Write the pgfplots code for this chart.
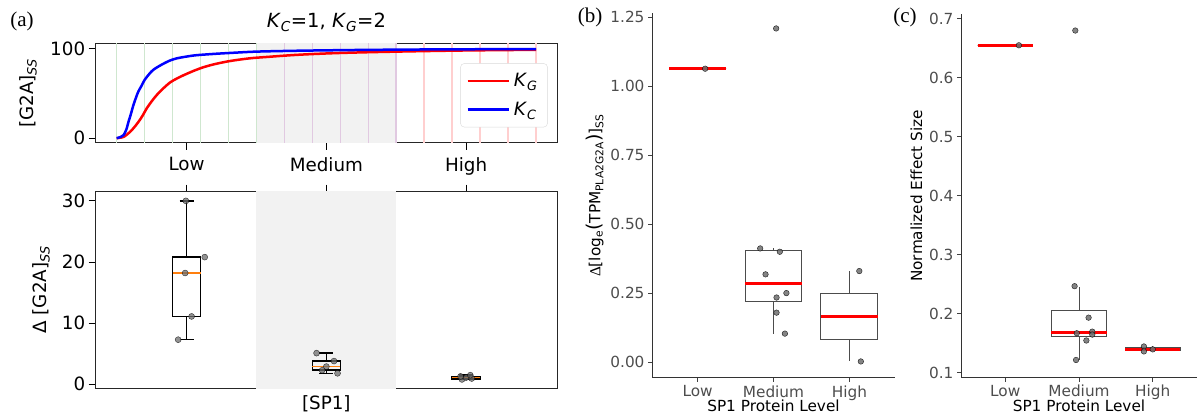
\documentclass[border=0pt]{standalone}
\usepackage{fontspec}
\setmainfont{DejaVu Sans}
\newfontfamily\serifpanel{Liberation Serif}
\usepackage{pgfplots}
\pgfplotsset{compat=1.18}
\usepgfplotslibrary{statistics}
\newcommand\fs{\fontsize{15.3}{18}\selectfont}
\newcommand\fa{\fontsize{18.3}{22}\selectfont}
\definecolor{mplorange}{HTML}{FF7F0E}
\definecolor{ggtick}{HTML}{4D4D4D}
\definecolor{shade}{HTML}{F2F2F2}
\definecolor{vgreen}{HTML}{CFE7CF}
\definecolor{vpurple}{HTML}{E1C9E1}
\definecolor{vred}{HTML}{FFCFCF}
\definecolor{ptgray}{HTML}{6E6E6E}
\pgfplotsset{
  /pgf/number format/assume math mode=true,
}
\begin{document}
\begin{tikzpicture}
\path[use as bounding box] (0pt,0pt) rectangle (1200pt,414pt);

% ---------------- (a) top ----------------
\begin{axis}[
  at={(95.7pt,271.3pt)}, anchor=south west, scale only axis,
  width=461.3pt, height=98.7pt,
  xmin=0.35, xmax=3.65, ymin=-5, ymax=105,
  xtick={1,2,3}, xticklabels={Low,Medium,High}, ytick={0,100},
  xtick pos=left, ytick pos=left,
  tick align=outside, major tick length=7pt,
  tick style={line width=1pt, black},
  axis line style={line width=1pt, black!85},
  tick label style={font=\fa},
  xticklabel style={yshift=-4pt},
  title={\textit{K}\textsubscript{\textit{C}}=1, \textit{K}\textsubscript{\textit{G}}=2},
  title style={font=\fontsize{19.5}{22}\selectfont, at={(0.5,1)}, anchor=base, yshift=10pt},
  ylabel={[G2A]\textsubscript{\textit{SS}}},
  ylabel style={font=\fa, at={(axis description cs:0,0.5)}, anchor=center, yshift=67.7pt},
  legend style={at={(0.98,0.805)}, anchor=north east, draw=black!15,
    rounded corners=4pt, fill=white, font=\fa, row sep=6pt, inner sep=6pt,
    nodes={inner sep=4pt}},
  legend cell align=left,
  legend image code/.code={\draw[#1] (0pt,0pt) -- (41pt,0pt);},
]
\addplot[fill=shade, draw=none, forget plot] coordinates {(1.5,-10) (1.5,120) (2.5,120) (2.5,-10)} -- cycle;
\addplot[vgreen, line width=1.5pt, forget plot, unbounded coords=jump] coordinates {
 (0.5,-10) (0.5,120) (0.6,nan) (0.7,-10) (0.7,120) (0.8,nan) (0.9,-10) (0.9,120) (1.0,nan)
 (1.1,-10) (1.1,120) (1.2,nan) (1.3,-10) (1.3,120) (1.4,nan) (1.5,-10) (1.5,120)};
\addplot[vpurple, line width=1.5pt, forget plot, unbounded coords=jump] coordinates {
 (1.7,-10) (1.7,120) (1.8,nan) (1.9,-10) (1.9,120) (2.0,nan) (2.1,-10) (2.1,120) (2.2,nan)
 (2.3,-10) (2.3,120) (2.4,nan) (2.5,-10) (2.5,120)};
\addplot[vred, line width=1.5pt, forget plot, unbounded coords=jump] coordinates {
 (2.7,-10) (2.7,120) (2.8,nan) (2.9,-10) (2.9,120) (3.0,nan) (3.1,-10) (3.1,120) (3.2,nan)
 (3.3,-10) (3.3,120) (3.4,nan) (3.5,-10) (3.5,120)};
\addplot[red, line width=2.5pt, smooth, forget plot] coordinates {
 (0.50,0) (0.55,1.5) (0.595,7) (0.625,12) (0.655,18) (0.685,25) (0.714,33) (0.75,41)
 (0.786,48) (0.83,55) (0.881,62) (0.93,66.5) (0.976,70) (1.05,75) (1.119,79) (1.2,82.5)
 (1.31,86) (1.45,89) (1.57,90.5) (1.8,93) (2.1,95) (2.5,96.5) (3.0,97.8) (3.5,98.5)};
\addplot[blue, line width=2.5pt, smooth, forget plot] coordinates {
 (0.50,0) (0.53,1.5) (0.55,3.5) (0.57,10) (0.584,18) (0.60,26) (0.62,37) (0.64,46)
 (0.655,52) (0.68,59) (0.70,65) (0.73,71) (0.76,76) (0.80,80) (0.834,83) (0.88,86.5)
 (0.93,89) (1.00,91) (1.07,92.5) (1.2,94) (1.31,95) (1.5,96.5) (1.8,97.5) (2.2,98.3)
 (2.6,98.8) (3.0,99.1) (3.5,99.4)};
\addlegendimage{red, line width=2.5pt}
\addlegendentry{\textit{K}\textsubscript{\textit{G}}}
\addlegendimage{blue, line width=2.5pt}
\addlegendentry{\textit{K}\textsubscript{\textit{C}}}
\end{axis}

% ---------------- (a) bottom ----------------
\begin{axis}[
  at={(95.7pt,25.7pt)}, anchor=south west, scale only axis,
  width=461.3pt, height=196.6pt,
  xmin=0.35, xmax=3.65, ymin=-0.65, ymax=31.5,
  xtick={1,2,3}, xticklabels={,,}, xtick pos=right,
  ytick={0,10,20,30}, ytick pos=left,
  tick align=outside, major tick length=7pt,
  tick style={line width=1pt, black},
  axis line style={line width=1pt, black!85},
  tick label style={font=\fa},
  xlabel={[SP1]},
  xlabel style={font=\fa, at={(axis description cs:0.5,0)}, anchor=base, yshift=-21.7pt},
  ylabel={Δ [G2A]\textsubscript{\textit{SS}}},
  ylabel style={font=\fa, at={(axis description cs:0,0.5)}, anchor=center, yshift=54.7pt},
  boxplot/draw direction=y,
  boxplot/draw/median/.code={\draw[mplorange, line width=1.5pt]
    (boxplot box cs:\pgfplotsboxplotvalue{median},0) --
    (boxplot box cs:\pgfplotsboxplotvalue{median},1);},
]
\addplot[fill=shade, draw=none] coordinates {(1.5,-5) (1.5,40) (2.5,40) (2.5,-5)} -- cycle;
\addplot[black, line width=1.6pt, boxplot prepared={draw position=1, lower whisker=7.3,
  lower quartile=11.1, median=18.2, upper quartile=20.8, upper whisker=30,
  box extend=0.2, whisker extend=0.1}] coordinates {};
\addplot[black, line width=1.6pt, boxplot prepared={draw position=2, lower whisker=1.8,
  lower quartile=2.3, median=2.9, upper quartile=3.8, upper whisker=5.1,
  box extend=0.2, whisker extend=0.1}] coordinates {};
\addplot[black, line width=1.6pt, boxplot prepared={draw position=3, lower whisker=0.8,
  lower quartile=0.9, median=1.1, upper quartile=1.3, upper whisker=1.5,
  box extend=0.2, whisker extend=0.1}] coordinates {};
\addplot[only marks, mark=*, mark size=3pt, mark options={fill=ptgray, draw=none, opacity=0.75}] coordinates {
 (0.94,7.3) (1.036,11.1) (0.99,18.2) (1.13,20.8) (0.995,30)
 (1.93,5.1) (2.055,3.8) (2.0,2.9) (1.97,2.3) (2.08,1.8)
 (2.97,0.8) (3.04,0.95) (3.0,1.1) (2.96,1.3) (3.03,1.5)};
\end{axis}

% ---------------- (b) ----------------
\begin{axis}[
  at={(652pt,36pt)}, anchor=south west, scale only axis,
  width=243pt, height=364.7pt,
  xmin=0.4, xmax=3.6, ymin=-0.058, ymax=1.265,
  axis lines*=left, axis line style={line width=1pt, black!80},
  xtick={1,2,3}, xticklabels={Low,Medium,High},
  ytick={0,0.25,0.5,0.75,1,1.25},
  yticklabel style={/pgf/number format/.cd, fixed, fixed zerofill, precision=2},
  tick align=outside, major tick length=4pt,
  tick style={line width=1pt, black!75},
  tick label style={font=\fs, ggtick},
  xlabel={SP1 Protein Level},
  xlabel style={font=\fs, at={(axis description cs:0.5,0)}, anchor=base, yshift=-33.5pt},
  ylabel={{\serifpanel Δ}[log\textsubscript{e}{\fontsize{19}{19}\selectfont(}TPM\textsubscript{PLA2G2A}{\fontsize{19}{19}\selectfont)}]\textsubscript{SS}},
  ylabel style={font=\fs},
  boxplot/draw direction=y,
  boxplot/draw/median/.code={\draw[red, line width=2.5pt]
    (boxplot box cs:\pgfplotsboxplotvalue{median},0) --
    (boxplot box cs:\pgfplotsboxplotvalue{median},1);},
]
\addplot[black!70, line width=1pt, boxplot prepared={draw position=1, lower whisker=1.064,
  lower quartile=1.064, median=1.064, upper quartile=1.064, upper whisker=1.064,
  box extend=0.75, whisker extend=0}] coordinates {};
\addplot[black!70, line width=1pt, boxplot prepared={draw position=2, lower whisker=0.103,
  lower quartile=0.220, median=0.284, upper quartile=0.403, upper whisker=0.412,
  box extend=0.75, whisker extend=0}] coordinates {};
\addplot[black!70, line width=1pt, boxplot prepared={draw position=3, lower whisker=0.002,
  lower quartile=0.083, median=0.165, upper quartile=0.247, upper whisker=0.33,
  box extend=0.75, whisker extend=0}] coordinates {};
\addplot[only marks, mark=*, mark size=2.8pt, mark options={fill=ptgray, draw=none, opacity=0.85}] coordinates {
 (1.10,1.064)
 (1.825,0.412) (2.083,0.40) (1.895,0.318) (2.04,0.234) (2.17,0.25) (2.04,0.179) (2.15,0.103) (2.035,1.21)
 (3.13,0.33) (3.15,0.002)};
\end{axis}

% ---------------- (c) ----------------
\begin{axis}[
  at={(961pt,36.3pt)}, anchor=south west, scale only axis,
  width=236pt, height=363.7pt,
  xmin=0.4, xmax=3.6, ymin=0.092, ymax=0.708,
  axis lines*=left, axis line style={line width=1pt, black!80},
  xtick={1,2,3}, xticklabels={Low,Medium,High},
  ytick={0.1,0.2,0.3,0.4,0.5,0.6,0.7},
  yticklabel style={/pgf/number format/.cd, fixed, fixed zerofill, precision=1},
  tick align=outside, major tick length=4pt,
  tick style={line width=1pt, black!75},
  tick label style={font=\fs, ggtick},
  xlabel={SP1 Protein Level},
  xlabel style={font=\fs, at={(axis description cs:0.5,0)}, anchor=base, yshift=-33.8pt},
  ylabel={Normalized Effect Size},
  ylabel style={font=\fs},
  boxplot/draw direction=y,
  boxplot/draw/median/.code={\draw[red, line width=2.5pt]
    (boxplot box cs:\pgfplotsboxplotvalue{median},0) --
    (boxplot box cs:\pgfplotsboxplotvalue{median},1);},
]
\addplot[black!70, line width=1pt, boxplot prepared={draw position=1, lower whisker=0.655,
  lower quartile=0.655, median=0.655, upper quartile=0.655, upper whisker=0.655,
  box extend=0.75, whisker extend=0}] coordinates {};
\addplot[black!70, line width=1pt, boxplot prepared={draw position=2, lower whisker=0.122,
  lower quartile=0.1625, median=0.1687, upper quartile=0.2066, upper whisker=0.2458,
  box extend=0.75, whisker extend=0}] coordinates {};
\addplot[black!70, line width=1pt, boxplot prepared={draw position=3, lower whisker=0.137,
  lower quartile=0.1385, median=0.140, upper quartile=0.1425, upper whisker=0.145,
  box extend=0.75, whisker extend=0}] coordinates {};
\addplot[only marks, mark=*, mark size=2.8pt, mark options={fill=ptgray, draw=none, opacity=0.85}] coordinates {
 (1.185,0.655)
 (1.94,0.247) (2.13,0.1937) (1.97,0.1673) (2.18,0.170) (2.18,0.165) (2.10,0.155) (1.96,0.122) (1.95,0.680)
 (2.88,0.1449) (2.88,0.1365) (3.0,0.140)};
\end{axis}

\node[font=\serifpanel\fontsize{21}{21}\selectfont] at (22pt,393pt) {(a)};
\node[font=\serifpanel\fontsize{21}{21}\selectfont] at (590pt,396.5pt) {(b)};
\node[font=\serifpanel\fontsize{21}{21}\selectfont] at (905pt,397pt) {(c)};
\end{tikzpicture}
\end{document}
